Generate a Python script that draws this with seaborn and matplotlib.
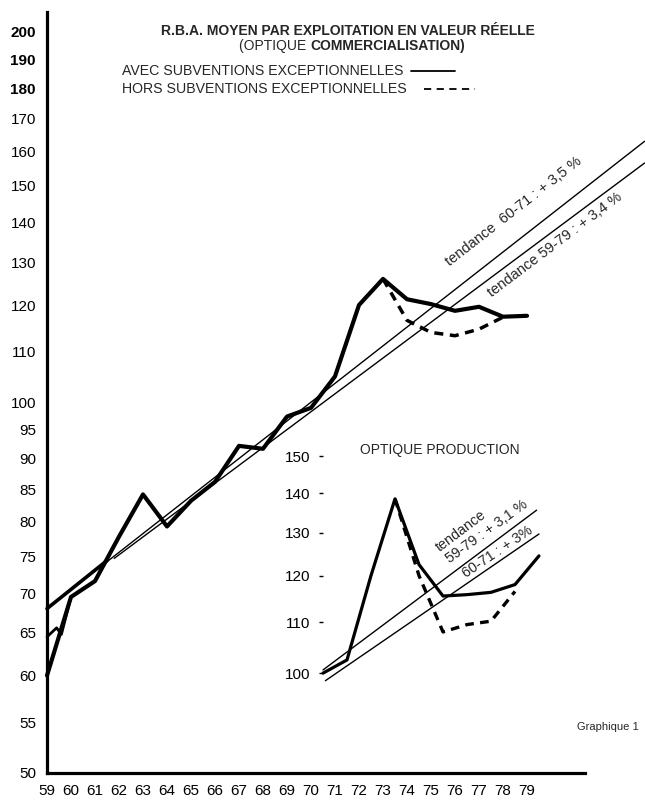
import numpy as np
import pandas as pd
import seaborn as sns
import matplotlib.pyplot as plt
from matplotlib.lines import Line2D
from matplotlib.ticker import FixedLocator, NullLocator

# valeurs (indice R.B.A., echelle logarithmique)
annees = list(range(59, 80))
rba_avec = [60, 69.5, 71.6, 77.8, 84.2, 79.3, 83.2, 86.2, 92.2, 91.7, 97.4,
            99, 105, 120, 126, 121.3, 120.2, 118.7, 119.6, 117.4, 117.6]
annees_hors = [73, 74, 75, 76, 77, 78]
rba_hors = [126, 116.6, 114, 113.3, 114.7, 117.3]
debut_x = [59, 59.4, 59.6, 60]
debut_val = [64.5, 65.6, 64.8, 69.5]

tend_6071_x = [59, 83.9]
tend_6071_val = [68, 163]
tend_6071_gras_x = [59, 61.5]
tend_6071_gras_val = [68, 74.4]
tend_5979_x = [61.8, 83.9]
tend_5979_val = [74.7, 156.5]

# encart "optique production"
prod_annees = list(range(70, 80))
prod_avec = [100, 102.5, 120, 138.5, 122.5, 115.5, 115.8, 116.3, 118, 124.5]
prod_annees_hors = [73, 74, 75, 76, 77, 78]
prod_hors = [138.5, 120, 108, 109.5, 110.2, 116.5]
prod_tend_5979_x = [70, 78.9]
prod_tend_5979_val = [100.6, 135.6]
prod_tend_6071_x = [70.1, 79.0]
prod_tend_6071_val = [98.6, 129.7]

yticks = [50, 55, 60, 65, 70, 75, 80, 85, 90, 95, 100,
          110, 120, 130, 140, 150, 160, 170, 180, 190, 200]
yticks_gras = [180, 190, 200]
prod_yticks = [100, 110, 120, 130, 140, 150]

sns.set_style("white")
plt.rcParams['font.family'] = ['Liberation Sans', 'DejaVu Sans']

W, H = 645, 801
fig = plt.figure(figsize=(W / 100, H / 100), dpi=100)


def boite(x0, y0, x1, y1):
    return [x0 / W, 1 - y1 / H, (x1 - x0) / W, (y1 - y0) / H]


def pt(x, y):
    return x / W, 1 - y / H


def ligne(ax, x, y, lw, ls='-'):
    df = pd.DataFrame({'x': x, 'y': y})
    sns.lineplot(data=df, x='x', y='y', ax=ax, color='black', lw=lw,
                 linestyle=ls, clip_on=False, solid_capstyle='round',
                 solid_joinstyle='round')


# --- graphique principal ---
ax = fig.add_axes(boite(47, 12, 645, 773))
ax.set_yscale('log')
ax.set_xlim(59, 59 + 598 / 24)
ax.set_ylim(50, 207.6)

ligne(ax, tend_6071_x, tend_6071_val, 1.0)
ligne(ax, tend_5979_x, tend_5979_val, 1.0)
ligne(ax, tend_6071_gras_x, tend_6071_gras_val, 2.6)
ligne(ax, debut_x, debut_val, 2.0)
ligne(ax, annees, rba_avec, 3.0)
ligne(ax, annees_hors, rba_hors, 2.5, (0, (2.6, 1.9)))

ax.set_xlabel('')
ax.set_ylabel('')
ax.yaxis.set_major_locator(FixedLocator(yticks))
ax.yaxis.set_minor_locator(NullLocator())
ax.set_yticklabels([str(v) for v in yticks])
for lab, v in zip(ax.get_yticklabels(), yticks):
    if v in yticks_gras:
        lab.set_fontweight('bold')
ax.set_xticks(annees)
ax.set_xticklabels([str(a) for a in annees])
ax.tick_params(axis='y', direction='in', length=3, width=1, pad=8,
               labelsize=11, colors='black')
ax.tick_params(axis='x', length=0, pad=8, labelsize=11, colors='black')
for s in ['top', 'right']:
    ax.spines[s].set_visible(False)
for s in ['left', 'bottom']:
    ax.spines[s].set_linewidth(2.3)
    ax.spines[s].set_color('black')
ax.spines['bottom'].set_bounds(59, 81.4)

# --- encart optique production ---
axp = fig.add_axes(boite(323, 440, 560, 695))
axp.patch.set_alpha(0)
axp.set_yscale('log')
axp.set_xlim(70, 70 + 237 / 24)
axp.set_ylim(96.0, 154.6)
ligne(axp, prod_tend_5979_x, prod_tend_5979_val, 1.0)
ligne(axp, prod_tend_6071_x, prod_tend_6071_val, 1.0)
ligne(axp, prod_annees, prod_avec, 2.3)
ligne(axp, prod_annees_hors, prod_hors, 2.4, (0, (2.6, 1.9)))
axp.set_xlabel('')
axp.set_ylabel('')
axp.set_xticks([])
axp.yaxis.set_major_locator(FixedLocator(prod_yticks))
axp.yaxis.set_minor_locator(NullLocator())
axp.set_yticklabels([str(v) for v in prod_yticks])
axp.tick_params(axis='y', direction='out', length=3, width=1, pad=6,
                labelsize=11, colors='black', left=True)
for s in axp.spines.values():
    s.set_visible(False)

# --- textes ---
fig.text(*pt(348, 31), 'R.B.A. MOYEN PAR EXPLOITATION EN VALEUR RÉELLE',
         ha='center', va='center', fontsize=10, fontweight='bold')
t1 = fig.text(*pt(239, 53), '(OPTIQUE ', ha='left', va='bottom', fontsize=10)
ax.annotate('COMMERCIALISATION)', xy=(1, 0), xycoords=t1, ha='left',
            va='bottom', fontsize=10, fontweight='bold')
fig.text(*pt(122, 71), 'AVEC SUBVENTIONS EXCEPTIONNELLES', ha='left',
         va='center', fontsize=10.2)
fig.text(*pt(122, 89), 'HORS SUBVENTIONS EXCEPTIONNELLES', ha='left',
         va='center', fontsize=10.2)
fig.add_artist(Line2D([411 / W, 455 / W], [1 - 71 / H, 1 - 71 / H],
                      color='black', lw=1.3))
fig.add_artist(Line2D([424 / W, 475 / W], [1 - 89 / H, 1 - 89 / H],
                      color='black', lw=1.3, linestyle=(0, (4, 3))))

fig.text(*pt(450, 266), 'tendance  60-71 : + 3,5 %', rotation=38,
         rotation_mode='anchor', ha='left', va='baseline', fontsize=10.5)
fig.text(*pt(492, 297), 'tendance 59-79 : + 3,4 %', rotation=37,
         rotation_mode='anchor', ha='left', va='baseline', fontsize=10.5)

fig.text(*pt(360, 450), 'OPTIQUE PRODUCTION', ha='left', va='center',
         fontsize=10)
fig.text(*pt(440, 552), 'tendance', rotation=37, rotation_mode='anchor',
         ha='left', va='baseline', fontsize=10.3)
fig.text(*pt(450, 563), '59-79 : + 3,1 %', rotation=36,
         rotation_mode='anchor', ha='left', va='baseline', fontsize=10.3)
fig.text(*pt(466, 578), '60-71 : + 3%', rotation=34, rotation_mode='anchor',
         ha='left', va='baseline', fontsize=10.3)

fig.text(*pt(577, 727), 'Graphique 1', ha='left', va='center', fontsize=8)

fig.savefig('out.png', dpi=100, facecolor='white')
